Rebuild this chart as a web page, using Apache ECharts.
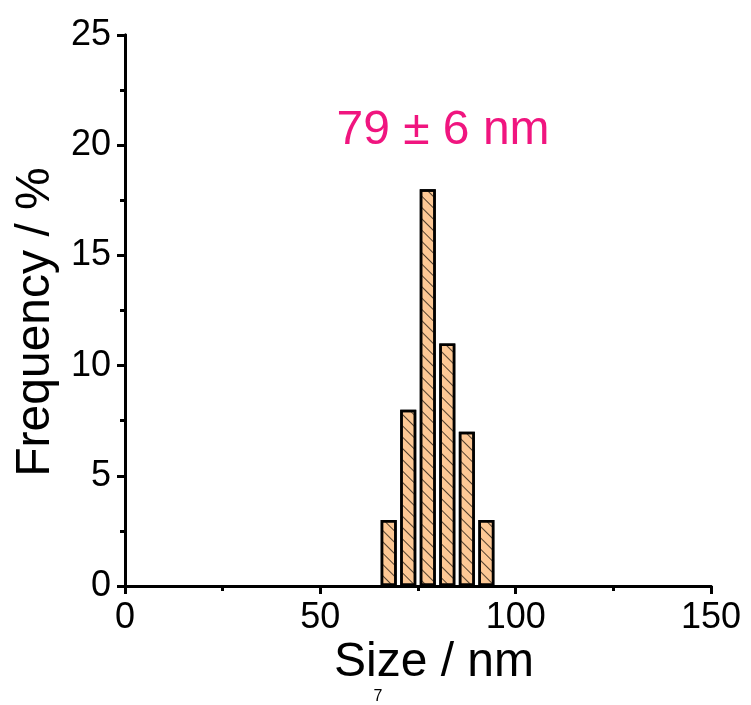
<!DOCTYPE html>
<html>
<head>
<meta charset="utf-8">
<script src="https://cdn.jsdelivr.net/npm/echarts@6/dist/echarts.min.js"></script>
<style>html,body{margin:0;padding:0;background:#fff;}#c{width:751px;height:705px;}</style>
</head>
<body>
<div id="c"></div>
<script>
var binCenters = [67.5, 72.5, 77.5, 82.5, 87.5, 92.5];
var frequency = [3, 8, 18, 11, 7, 3];
var xTicks = [0, 50, 100, 150];
var yTicks = [0, 5, 10, 15, 20, 25];
var xTitle = 'Size / nm';
var yTitle = 'Frequency / %';
var annotation = '79 \u00b1 6 nm';
var pageNumber = '7';

var chart = echarts.init(document.getElementById('c'), null, {renderer: 'canvas'});
var FONT = '"Liberation Sans", Arial, sans-serif';
var axisLine = {show: true, lineStyle: {color: '#000', width: 3}};
var data = binCenters.map(function (x, i) { return [x, frequency[i]]; });

chart.setOption({
  animation: false,
  backgroundColor: '#fff',
  grid: {left: 125, right: 40, top: 35, bottom: 119, containLabel: false},
  xAxis: [{
    type: 'value', min: 0, max: 150, interval: 50,
    axisLine: axisLine,
    axisTick: {show: true, length: 8, inside: false, lineStyle: {width: 3, color: '#000'}},
    minorTick: {show: true, splitNumber: 2, length: 5, lineStyle: {width: 3, color: '#000'}},
    axisLabel: {fontFamily: FONT, fontSize: 36, color: '#000', margin: 14},
    splitLine: {show: false}
  }, {
    type: 'value', min: 0, max: 150, position: 'top',
    axisLine: axisLine, axisTick: {show: false}, axisLabel: {show: false}, splitLine: {show: false}
  }],
  yAxis: [{
    type: 'value', min: 0, max: 25, interval: 5,
    axisLine: axisLine,
    axisTick: {show: true, length: 8, inside: false, lineStyle: {width: 3, color: '#000'}},
    minorTick: {show: true, splitNumber: 2, length: 5, lineStyle: {width: 3, color: '#000'}},
    axisLabel: {fontFamily: FONT, fontSize: 36, color: '#000', margin: 14},
    splitLine: {show: false}
  }, {
    type: 'value', min: 0, max: 25, position: 'right',
    axisLine: axisLine, axisTick: {show: false}, axisLabel: {show: false}, splitLine: {show: false}
  }],
  series: [{
    type: 'bar',
    data: data,
    barWidth: 16,
    itemStyle: {
      color: '#FDC895',
      borderColor: '#000',
      borderWidth: 2.5,
      decal: {
        symbol: 'rect',
        symbolSize: 1,
        color: 'rgba(40,30,20,0.8)',
        dashArrayX: [1, 0],
        dashArrayY: [1, 7],
        rotation: Math.PI / 4
      }
    },
    z: 3
  }],
  graphic: [{
    type: 'text',
    style: {text: xTitle, font: '48px ' + FONT, fill: '#000', x: 434, y: 663, textAlign: 'center', textVerticalAlign: 'middle'}
  }, {
    type: 'text', x: 36, y: 322, rotation: Math.PI / 2,
    style: {text: yTitle, font: '48px ' + FONT, fill: '#000', x: 0, y: 0, textAlign: 'center', textVerticalAlign: 'middle'}
  }, {
    type: 'text',
    style: {text: annotation, font: '48px ' + FONT, fill: '#F0157F', x: 443, y: 131, textAlign: 'center', textVerticalAlign: 'middle'}
  }, {
    type: 'text',
    style: {text: pageNumber, font: '16px ' + FONT, fill: '#000', x: 378, y: 697, textAlign: 'center', textVerticalAlign: 'middle'}
  }]
});
</script>
</body>
</html>
